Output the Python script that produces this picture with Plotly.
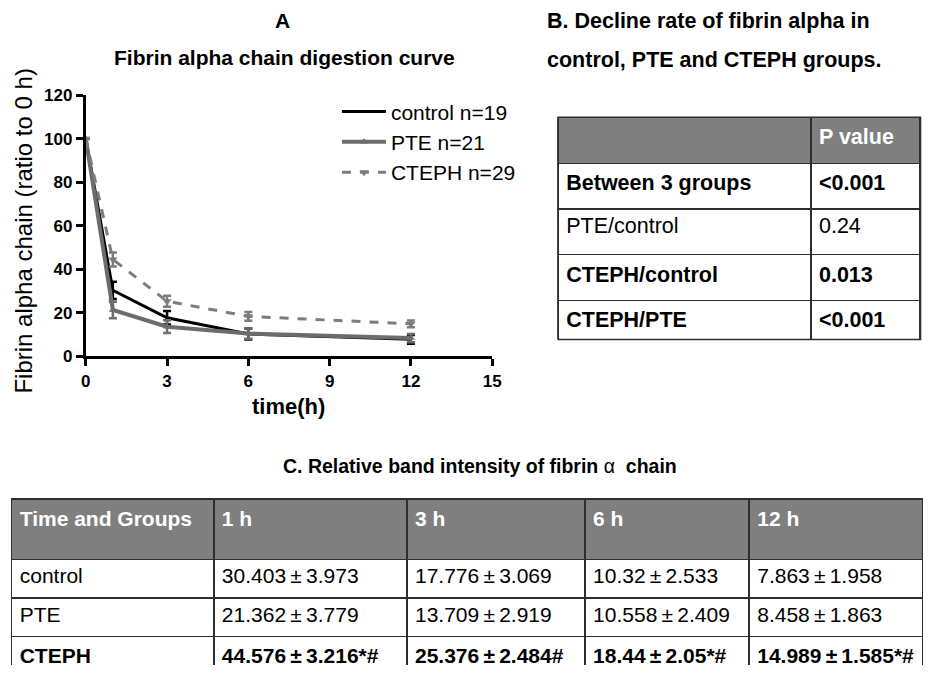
import plotly.graph_objects as go

# ---------------- data ----------------
time_h = [0, 1, 3, 6, 12]
control_mean = [100, 30.403, 17.776, 10.32, 7.863]
control_se = [0, 3.973, 3.069, 2.533, 1.958]
pte_mean = [100, 21.362, 13.709, 10.558, 8.458]
pte_se = [0, 3.779, 2.919, 2.409, 1.863]
cteph_mean = [100, 44.576, 25.376, 18.44, 14.989]
cteph_se = [0, 3.216, 2.484, 2.05, 1.585]
cteph_marks = ["*#", "#", "*#", "*#"]

series_names = ["control n=19", "PTE n=21", "CTEPH n=29"]
x_ticks = [0, 3, 6, 9, 12, 15]
y_ticks = [0, 20, 40, 60, 80, 100, 120]

table_c_header = ["Time and Groups", "1 h", "3 h", "6 h", "12 h"]
table_c_groups = ["control", "PTE", "CTEPH"]

table_b_rows = ["Between 3 groups", "PTE/control", "CTEPH/control", "CTEPH/PTE"]
table_b_pvals = ["<0.001", "0.24", "0.013", "<0.001"]
table_b_bold = [True, False, True, True]

# ---------------- layout helpers ----------------
W, H = 932, 676
# mapping from target picture pixels to figure pixels (measured calibration)
SX, OX, SY, OY = 0.984, 5.3, 0.975, 8.4
FONT = "Liberation Sans, Arial, sans-serif"


def fx(r):
    return (r - OX) / SX


def fy(r):
    return (r - OY) / SY


def px(r):
    return min(max(fx(r) / W, 0.0), 1.0)


def py(r):
    return min(max(1 - fy(r) / H, 0.0), 1.0)


def hlen(h):
    return h / SY


def bold(s, flag=True):
    return f"<b>{s}</b>" if flag else s


PM = "\u2009±\u2009"
BORDER = "#2e2e2e"
HEAD_FILL = "#7f7f7f"

fig = go.Figure()

# ---------------- line chart ----------------
fig.add_trace(go.Scatter(
    x=time_h, y=control_mean, name=series_names[0], mode="lines",
    line=dict(color="#000000", width=3),
    error_y=dict(type="data", array=control_se, color="#000000", thickness=2.5, width=4),
))
fig.add_trace(go.Scatter(
    x=time_h, y=pte_mean, name=series_names[1], mode="lines+markers",
    line=dict(color="#6c6c6c", width=4),
    marker=dict(symbol="triangle-up", size=7, color="#6c6c6c"),
    error_y=dict(type="data", array=pte_se, color="#6c6c6c", thickness=2.5, width=4),
))
fig.add_trace(go.Scatter(
    x=time_h, y=cteph_mean, name=series_names[2], mode="lines+markers",
    line=dict(color="#7c7c7c", width=3, dash="dash"),
    marker=dict(symbol="triangle-down", size=8, color="#7c7c7c"),
    error_y=dict(type="data", array=cteph_se, color="#7c7c7c", thickness=2.5, width=4),
))

# ---------------- table B ----------------
tb_left, tb_mid, tb_top = fx(558), fx(811), fy(117)
tb_right = W - 2
tb_head_h, tb_row_h = hlen(45), hlen(44.5)
tb_bottom = tb_top + tb_head_h + 4 * tb_row_h + 0.5
fig.add_trace(go.Table(
    domain=dict(x=[tb_left / W, tb_right / W], y=[1 - tb_bottom / H, 1 - tb_top / H]),
    columnwidth=[tb_mid - tb_left, tb_right - tb_mid],
    header=dict(
        values=["", "<b>P value</b>"],
        fill_color=HEAD_FILL,
        line=dict(color=BORDER, width=1.5),
        font=dict(family=FONT, size=21.5, color="white"),
        align="left", height=tb_head_h,
    ),
    cells=dict(
        values=[[bold(r, b) for r, b in zip(table_b_rows, table_b_bold)],
                [bold(p, b) for p, b in zip(table_b_pvals, table_b_bold)]],
        fill_color="white",
        line=dict(color=BORDER, width=1.5),
        font=dict(family=FONT, size=21.5, color="black"),
        align="left", height=tb_row_h,
    ),
))
# outer frame of table B (right / bottom edges get clipped by the table layer)
fig.add_shape(type="rect", xref="paper", yref="paper",
              x0=tb_left / W, x1=(tb_right - 0.5) / W,
              y0=1 - (tb_bottom - 0.5) / H, y1=1 - tb_top / H,
              line=dict(color=BORDER, width=1.5), fillcolor="rgba(0,0,0,0)", layer="above")

# ---------------- table C ----------------
means = [control_mean[1:], pte_mean[1:], cteph_mean[1:]]
ses = [control_se[1:], pte_se[1:], cteph_se[1:]]
marks = [["", "", "", ""], ["", "", "", ""], cteph_marks]
row_bold = [False, False, True]

col_values = [[bold(g, b) for g, b in zip(table_c_groups, row_bold)]]
for j in range(4):
    col_values.append([bold(f"{means[i][j]}{PM}{ses[i][j]}{marks[i][j]}", row_bold[i])
                       for i in range(3)])

tc_edges = [fx(12), fx(214), fx(407), fx(585), fx(749), W]
fig.add_trace(go.Table(
    domain=dict(x=[tc_edges[0] / W, 1.0], y=[0.0, py(500)]),
    columnwidth=[b - a for a, b in zip(tc_edges[:-1], tc_edges[1:])],
    header=dict(
        values=[bold(h) for h in table_c_header],
        fill_color=HEAD_FILL,
        line=dict(color=BORDER, width=1.5),
        font=dict(family=FONT, size=21, color="white"),
        align="left", height=hlen(59),
    ),
    cells=dict(
        values=col_values,
        fill_color="white",
        line=dict(color=BORDER, width=1.5),
        font=dict(family=FONT, size=21, color="black"),
        align="left", height=hlen(37.5),
    ),
))

# ---------------- layout ----------------
axis_common = dict(
    showline=True, linecolor="black", linewidth=3,
    ticks="outside", ticklen=7, tickwidth=3, tickcolor="black",
    showgrid=False, zeroline=False,
    tickfont=dict(family=FONT, size=17, color="black", weight="bold"),
)

fig.update_layout(
    width=W, height=H,
    margin=dict(l=0, r=0, t=0, b=0),
    paper_bgcolor="white", plot_bgcolor="white",
    font=dict(family=FONT, color="black"),
    xaxis=dict(domain=[px(86), px(492)], range=[0, 15], tickvals=x_ticks, anchor="y", **axis_common),
    yaxis=dict(domain=[py(357), py(95)], range=[0, 120], tickvals=y_ticks, anchor="x", **axis_common),
    showlegend=True,
    legend=dict(
        x=(fx(343) - 6.2) / W, y=1 - (fy(113) - 22.5) / H, xanchor="left", yanchor="top",
        font=dict(family=FONT, size=21, color="black"),
        bgcolor="rgba(0,0,0,0)", itemwidth=44, tracegroupgap=0,
    ),
)

annotations = [
    dict(text="<b>A</b>", x=283, y=20, size=21, anchor="center"),
    dict(text="<b>Fibrin alpha chain digestion curve</b>", x=285, y=57, size=21, anchor="center"),
    dict(text="<b>time(h)</b>", x=289, y=407, size=22, anchor="center"),
    dict(text="<b>B. Decline rate of fibrin alpha in</b>", x=545, y=20, size=21.5, anchor="left"),
    dict(text="<b>control, PTE and CTEPH groups.</b>", x=545, y=60, size=21.5, anchor="left"),
    dict(text="<b>C. Relative band intensity of fibrin</b> α <b> chain</b>", x=480, y=467, size=19.5, anchor="center"),
]
for a in annotations:
    fig.add_annotation(
        text=a["text"], x=px(a["x"]), y=py(a["y"]), xref="paper", yref="paper",
        xanchor=a["anchor"], yanchor="middle", showarrow=False,
        font=dict(family=FONT, size=a["size"], color="black"),
    )

fig.add_annotation(
    text="Fibrin alpha chain (ratio to 0 h)", x=px(24), y=py(231), xref="paper", yref="paper",
    xanchor="center", yanchor="middle", textangle=-90, showarrow=False,
    font=dict(family=FONT, size=24, color="black"),
)

fig.write_html("out.html", post_script="document.body.style.margin='0';",
               config={"displayModeBar": False})
